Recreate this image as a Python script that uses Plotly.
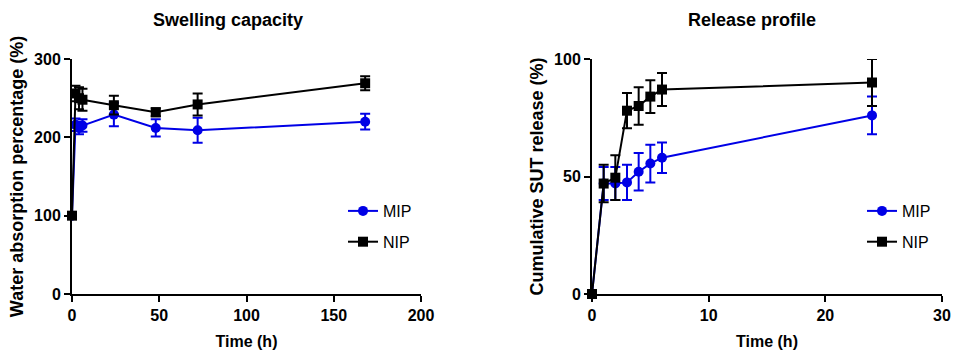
import plotly.graph_objects as go

# ---- Swelling capacity data ----
swell_time = [0, 2, 4, 6, 24, 48, 72, 168]
swell_mip = [100, 216, 212, 215, 229, 212, 209, 220]
swell_mip_err = [0, 8, 8, 8, 15, 11, 16, 10]
swell_nip = [100, 256, 250, 248, 241, 232, 242, 269]
swell_nip_err = [0, 10, 14, 14, 12, 5, 14, 9]

# ---- Release profile data ----
rel_time = [0, 1, 2, 3, 4, 5, 6, 24]
rel_mip = [0, 47, 47, 47.5, 52, 55.5, 58, 76]
rel_mip_err = [0, 7, 7, 7.5, 8, 8, 6.5, 8]
rel_nip = [0, 47, 49.5, 78, 80, 84, 87, 90]
rel_nip_err = [0, 8, 9.5, 7.5, 8, 7, 7, 10]

swell_xticks = [0, 50, 100, 150, 200]
swell_yticks = [0, 100, 200, 300]
rel_xticks = [0, 10, 20, 30]
rel_yticks = [0, 50, 100]

BLUE = "#0000e6"
BLACK = "#000000"
FONT = "Liberation Sans, Arial, sans-serif"

fig = go.Figure()

def add_series(x, y, err, name, color, symbol, xa, ya, legend, group):
    fig.add_trace(go.Scatter(
        x=x, y=y, name=name, mode="lines+markers",
        line=dict(color=color, width=2),
        marker=dict(color=color, size=10, symbol=symbol),
        error_y=dict(type="data", array=err, visible=True, color=color,
                     thickness=2, width=5),
        xaxis=xa, yaxis=ya, legend=legend, legendgroup=group, cliponaxis=False,
    ))

add_series(swell_time, swell_mip, swell_mip_err, "MIP", BLUE, "circle", "x", "y", "legend", "a")
add_series(swell_time, swell_nip, swell_nip_err, "NIP", BLACK, "square", "x", "y", "legend", "b")
add_series(rel_time, rel_mip, rel_mip_err, "MIP", BLUE, "circle", "x2", "y2", "legend2", "c")
add_series(rel_time, rel_nip, rel_nip_err, "NIP", BLACK, "square", "x2", "y2", "legend2", "d")

axis_common = dict(
    showline=True, linecolor="black", linewidth=2, ticks="outside",
    tickcolor="black", tickwidth=2, ticklen=6, showgrid=False, zeroline=False,
    automargin=False,
    tickfont=dict(family=FONT, size=16, color="black", weight="bold"),
)
xtitle_font = dict(family=FONT, size=16, color="black", weight="bold")
ytitle_font = dict(family=FONT, size=18, color="black", weight="bold")

y0 = 1 - 294 / 351
y1 = 1 - 59 / 351

legend_common = dict(xanchor="left", yanchor="top",
                     font=dict(family=FONT, size=16, color="black"),
                     bgcolor="rgba(0,0,0,0)", itemwidth=30, tracegroupgap=7)

fig.update_layout(
    width=954, height=351,
    margin=dict(l=0, r=0, t=0, b=0),
    plot_bgcolor="white", paper_bgcolor="white",
    xaxis=dict(domain=[72 / 954, 421 / 954], range=[0, 200], tickvals=swell_xticks,
               title=dict(text="Time (h)", standoff=13, font=xtitle_font), anchor="y", **axis_common),
    yaxis=dict(domain=[y0, y1], range=[0, 300], tickvals=swell_yticks,
               title=dict(text="Water absorption percentage (%)", standoff=6, font=ytitle_font),
               anchor="x", **axis_common),
    xaxis2=dict(domain=[592 / 954, 942 / 954], range=[0, 30], tickvals=rel_xticks,
                title=dict(text="Time (h)", standoff=13, font=xtitle_font), anchor="y2", **axis_common),
    yaxis2=dict(domain=[y0, y1], range=[0, 100], tickvals=rel_yticks,
                title=dict(text="Cumulative SUT release (%)", standoff=6, font=ytitle_font),
                anchor="x2", **axis_common),
    legend=dict(x=343 / 954, y=1 - 194 / 351, **legend_common),
    legend2=dict(x=862 / 954, y=1 - 194 / 351, **legend_common),
    annotations=[
        dict(text="Swelling capacity", x=228 / 954, y=1 - 20 / 351, xref="paper", yref="paper",
             showarrow=False, font=dict(family=FONT, size=18, color="black", weight="bold"),
             xanchor="center", yanchor="middle"),
        dict(text="Release profile", x=752 / 954, y=1 - 20 / 351, xref="paper", yref="paper",
             showarrow=False, font=dict(family=FONT, size=18, color="black", weight="bold"),
             xanchor="center", yanchor="middle"),
    ],
)

fig.write_html("out.html")
